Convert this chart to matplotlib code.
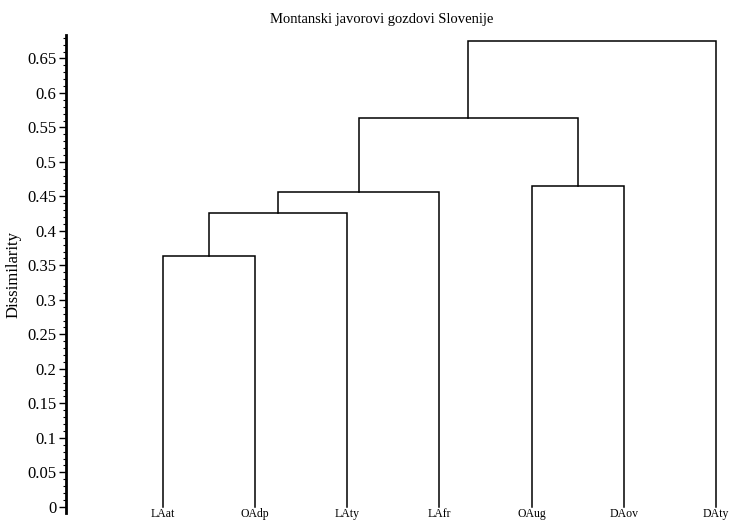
import matplotlib
matplotlib.use("Agg")
import matplotlib.pyplot as plt
from matplotlib.ticker import MultipleLocator, FormatStrFormatter

plt.rcParams['font.family'] = ['Liberation Serif', 'DejaVu Serif']

# leaves in dendrogram order
leaves = ["LAat", "OAdp", "LAty", "LAfr", "OAug", "DAov", "DAty"]
# merges: (left child, right child, height); ids >= len(leaves) are earlier merges
merge_a = [0, 7, 8, 4, 9, 11]
merge_b = [1, 2, 3, 5, 10, 6]
merge_h = [0.363, 0.426, 0.457, 0.465, 0.564, 0.675]

fig = plt.figure(figsize=(7.29, 5.20), dpi=100)
ax = fig.add_axes([66 / 729, 7 / 520, 1 - 66 / 729, (513 - 35) / 520])

# node positions
xpos = {i: i + 1 for i in range(len(leaves))}
ypos = {i: 0.0 for i in range(len(leaves))}
for k, (a, b, h) in enumerate(zip(merge_a, merge_b, merge_h)):
    node = len(leaves) + k
    ax.plot([xpos[a], xpos[a], xpos[b], xpos[b]], [ypos[a], h, h, ypos[b]],
            color='black', lw=1.1, solid_joinstyle='miter')
    xpos[node] = (xpos[a] + xpos[b]) / 2
    ypos[node] = h

ax.set_xlim(-0.05, 7.14)
ax.set_ylim(-0.009, 0.684)

for sp in ['top', 'right', 'bottom']:
    ax.spines[sp].set_visible(False)
ax.spines['left'].set_linewidth(2)

ax.set_xticks([])
for i, name in enumerate(leaves):
    ax.text(i + 1, -0.0015, name, ha='center', va='top', fontsize=8.5)

ax.yaxis.set_major_locator(MultipleLocator(0.05))
ax.yaxis.set_minor_locator(MultipleLocator(0.01))
ax.yaxis.set_major_formatter(FormatStrFormatter('%g'))
ax.tick_params(axis='y', which='major', direction='out', length=5, width=1, labelsize=12, pad=2)
ax.tick_params(axis='y', which='minor', direction='out', length=2.5, width=0.8)

ax.set_ylabel("Dissimilarity", fontsize=12, labelpad=4)

fig.text(382 / 729, 1 - 20 / 520, "Montanski javorovi gozdovi Slovenije",
         ha='center', va='center', fontsize=10.5)

fig.savefig("out.png", dpi=100)
